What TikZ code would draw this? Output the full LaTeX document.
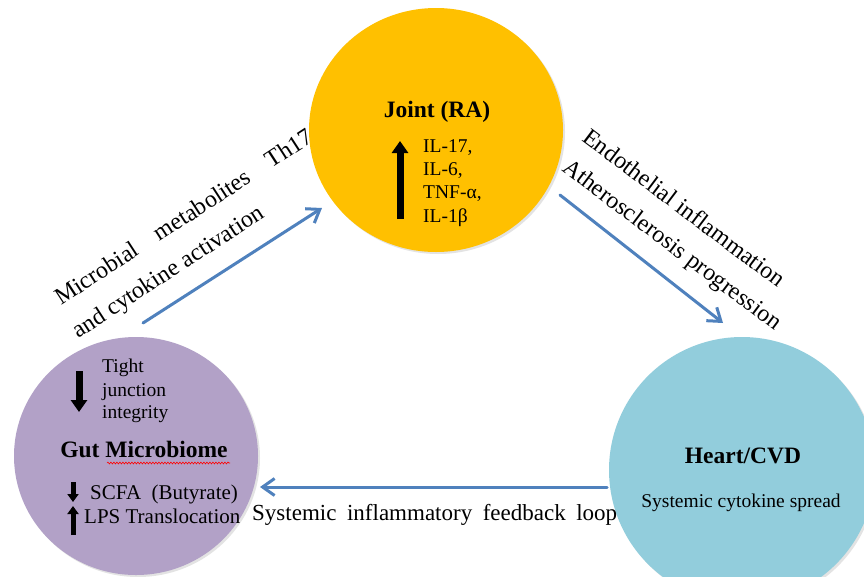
\documentclass[tikz,border=0pt]{standalone}
\usepackage{fontspec}
\setmainfont{Liberation Serif}
\usetikzlibrary{arrows.meta,shapes.geometric,shadows,decorations.pathmorphing}
\begin{document}
\begin{tikzpicture}[x=1pt,y=-1pt,
  organ/.style={ellipse,inner sep=0pt,draw=none,
    drop shadow={opacity=0.22,shadow xshift=2pt,shadow yshift=-2pt}},
  link/.style={draw=linkColor,line width=3pt,line cap=round,
    -{Straight Barb[length=12pt,width=17pt,line width=3pt]}},
  updown/.style={draw=black,line width=7pt,-{Triangle[length=12pt,width=16pt]}},
  smallupdown/.style={draw=black,line width=5pt,-{Triangle[length=8pt,width=11pt]}},
  edgetext/.style={font=\fontsize{24}{28}\selectfont,inner sep=0pt,anchor=base west},
  organtitle/.style={font=\fontsize{23.5}{28}\selectfont\bfseries,inner sep=0pt,anchor=base},
  itemtext/.style={font=\fontsize{19.5}{23}\selectfont,inner sep=0pt,anchor=base west}]
\definecolor{jointColor}{RGB}{255,192,0}
\definecolor{gutColor}{RGB}{178,161,199}
\definecolor{heartColor}{RGB}{146,205,220}
\definecolor{linkColor}{RGB}{79,129,189}
\path[use as bounding box,fill=white] (0,0) rectangle (864,576);
\clip (0,0) rectangle (864,576);

% labels along the links (drawn first, the circles cover them)
\node[edgetext,rotate=33] (micA) at (61,306) {\makebox[302pt][s]{Microbial metabolites Th17}};
\node[edgetext,rotate=33] (micB) at (78,339) {and cytokine activation};
\node[edgetext,rotate=-37] (endoA) at (581,140) {Endothelial inflammation};
\node[edgetext,rotate=-37] (endoB) at (561,170) {Atherosclerosis progression};

% organs
\node[organ,fill=jointColor,minimum width=254pt,minimum height=244pt] (joint) at (436,130) {};
\node[organ,fill=gutColor,minimum width=244pt,minimum height=238pt] (gut) at (136,456) {};
\node[organ,fill=heartColor,minimum width=266pt,minimum height=266pt] (heart) at (742,470) {};

% links
\coordinate (gutOut) at (143,323);
\coordinate (jointIn) at (322,208);
\coordinate (jointOut) at (560,195);
\coordinate (heartIn) at (723,323);
\coordinate (heartOut) at (607,487);
\coordinate (gutIn) at (260,487);
\draw[link] (gutOut) -- (jointIn);
\draw[link] (jointOut) -- (heartIn);
\draw[link] (heartOut) -- (gutIn);
\node[edgetext,font=\fontsize{23}{28}\selectfont] (loop) at (252,520) {\makebox[365pt][s]{Systemic inflammatory feedback loop}};

% joint
\node[organtitle] (jointTitle) at (437,117) {Joint (RA)};
\draw[updown] (400,219) -- (400,141);
\node[itemtext] (il17) at (423,152) {IL-17,};
\node[itemtext] (il6) at (423,175) {IL-6,};
\node[itemtext] (tnf) at (423,198) {TNF-α,};
\node[itemtext] (il1) at (423,222) {IL-1β};

% gut
\draw[updown] (79,371) -- (79,412);
\node[itemtext] (tight) at (102,372) {Tight};
\node[itemtext] (junction) at (102,396) {junction};
\node[itemtext] (integrity) at (102,418) {integrity};
\node[organtitle] (gutTitle) at (144,457) {Gut Microbiome};
\draw[red,line width=0.6pt,decorate,decoration={snake,amplitude=0.9pt,segment length=3pt}]
  (107,463) -- (230,463);
\draw[smallupdown] (73,482) -- (73,502);
\node[itemtext,font=\fontsize{21}{24}\selectfont] (scfa) at (90,499) {SCFA\ \ (Butyrate)};
\draw[smallupdown] (73,535) -- (73,506);
\node[itemtext,font=\fontsize{21}{24}\selectfont] (lps) at (84,523) {LPS Translocation};

% heart
\node[organtitle] (heartTitle) at (743,463) {Heart/CVD};
\node[itemtext,anchor=base] (spread) at (741,507) {Systemic cytokine spread};
\end{tikzpicture}
\end{document}
